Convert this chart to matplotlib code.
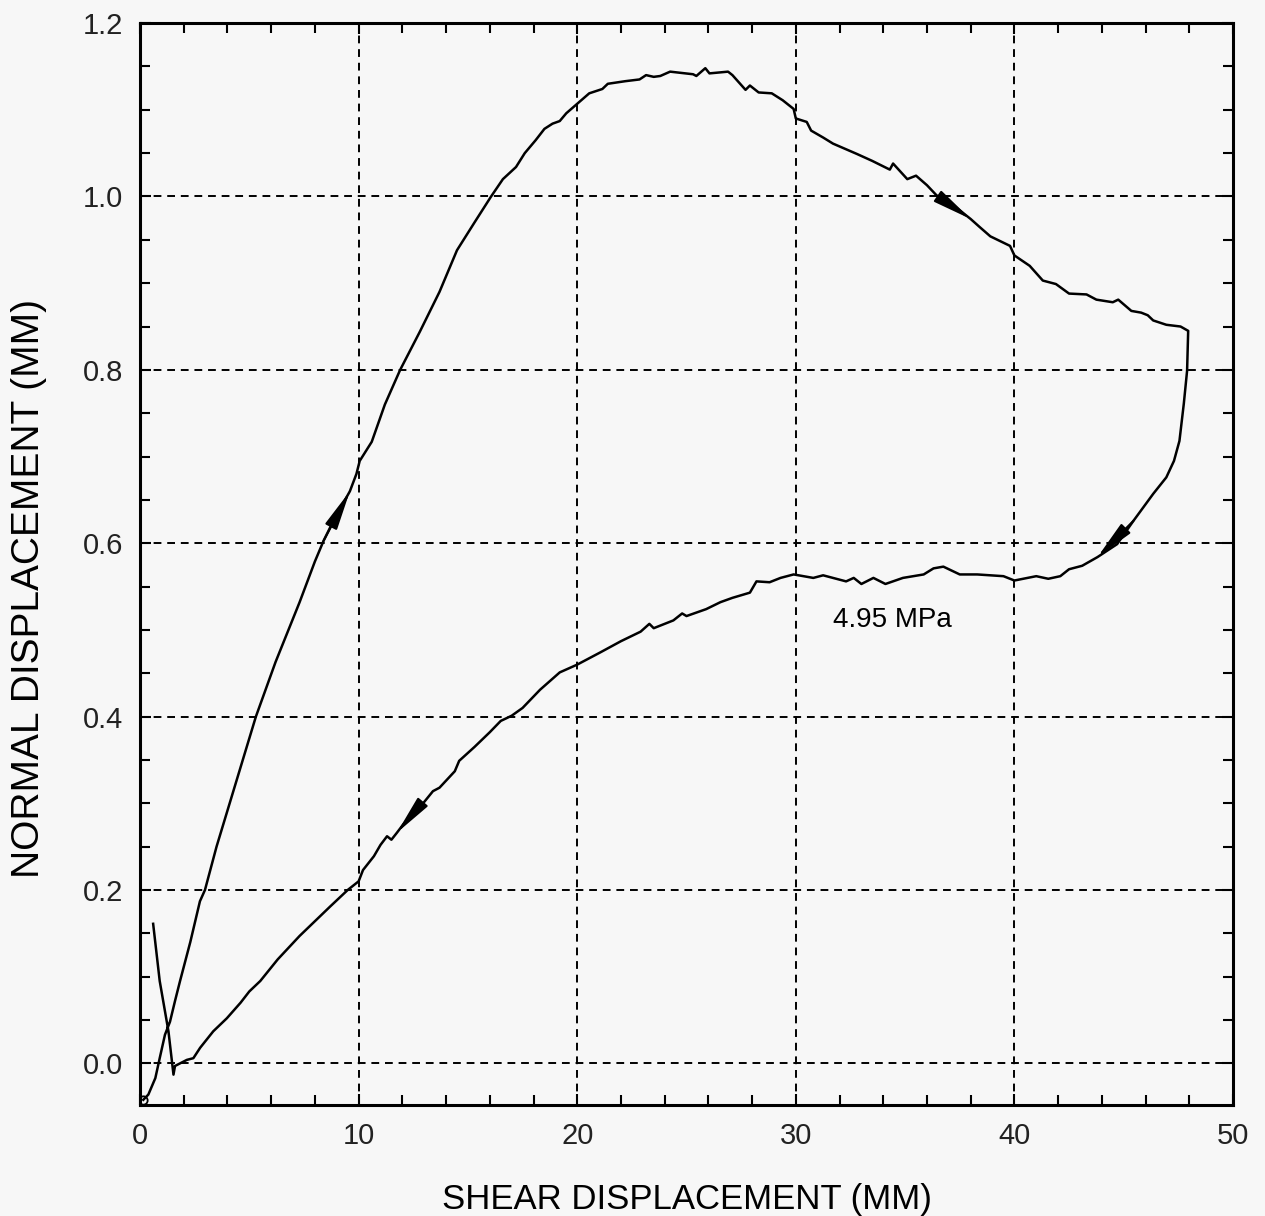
import numpy as np
from matplotlib import pyplot as plt
from matplotlib.ticker import MultipleLocator, FormatStrFormatter

# loading branch: shear vs normal displacement (mm)
rise_shear = [0.15, 0.38, 0.7, 0.9, 1.14, 1.37, 1.6, 1.83, 2.3, 2.74, 2.97, 3.5, 4.1, 4.7,
              5.3, 6.2, 7.3, 8.0, 8.4, 8.85, 9.6, 9.9, 10.05, 10.6, 11.2, 11.9, 12.8, 13.7,
              14.5, 15.3, 16.06, 16.6, 17.2, 17.6, 18.1, 18.5, 18.87, 19.2, 19.5, 20.0,
              20.55, 21.15, 21.4, 22.2, 22.85, 23.15, 23.5, 23.8, 24.25, 25.3, 25.45,
              25.86, 26.05, 26.9, 27.1, 27.7, 27.9, 28.3, 28.9, 29.4, 29.9, 30.0, 30.5,
              30.7, 31.25, 31.7, 32.8, 33.5, 34.3, 34.45, 35.1, 35.5, 36.0, 36.45, 37.2,
              38.0, 38.4, 38.9, 39.8, 40.0, 40.7, 41.3, 41.9, 42.5, 43.3, 43.75, 44.5,
              44.75, 45.35, 45.8, 46.1, 46.35, 46.95, 47.6, 47.95]
rise_normal = [-0.042, -0.036, -0.017, 0.006, 0.033, 0.048, 0.072, 0.095, 0.14, 0.187, 0.2,
               0.25, 0.30, 0.35, 0.40, 0.463, 0.532, 0.579, 0.603, 0.626, 0.660, 0.680,
               0.695, 0.717, 0.76, 0.80, 0.844, 0.89, 0.938, 0.97, 1.0, 1.02, 1.034, 1.05,
               1.065, 1.078, 1.084, 1.087, 1.096, 1.107, 1.119, 1.124, 1.130, 1.133, 1.135,
               1.140, 1.138, 1.139, 1.144, 1.141, 1.139, 1.148, 1.142, 1.144, 1.140, 1.123,
               1.128, 1.120, 1.119, 1.111, 1.101, 1.090, 1.086, 1.076, 1.068, 1.061, 1.049,
               1.041, 1.031, 1.038, 1.020, 1.024, 1.013, 1.001, 0.99, 0.974, 0.965, 0.954,
               0.943, 0.932, 0.920, 0.903, 0.899, 0.888, 0.887, 0.881, 0.878, 0.881, 0.868,
               0.866, 0.863, 0.857, 0.852, 0.850, 0.845]

# reverse branch back to the start
back_shear = [47.9, 47.75, 47.55, 47.3, 46.95, 46.35, 45.45, 44.7, 43.8, 43.1, 42.5, 42.1,
              41.55, 41.0, 40.0, 39.5, 38.3, 37.5, 36.75, 36.3, 35.85, 34.9, 34.1, 33.55,
              33.0, 32.65, 32.3, 31.25, 30.8, 29.9, 29.3, 28.8, 28.2, 27.9, 27.1, 26.55,
              25.9, 25.0, 24.8, 24.4, 23.5, 23.3, 22.9, 22.0, 21.05, 20.0, 19.2, 18.3, 17.5,
              17.0, 16.5, 16.0, 15.3, 14.6, 14.4, 13.7, 13.4, 12.95, 12.65, 12.05, 11.75,
              11.5, 11.3, 11.0, 10.7, 10.2, 10.0, 9.5, 8.7, 7.3, 6.3, 5.5, 5.0, 4.6, 3.97,
              3.35, 2.75, 2.44, 2.14, 1.83, 1.6, 1.53, 1.3, 0.9, 0.6]
back_normal = [0.799, 0.761, 0.718, 0.695, 0.676, 0.657, 0.626, 0.599, 0.584, 0.574, 0.570,
               0.562, 0.559, 0.562, 0.557, 0.562, 0.564, 0.564, 0.573, 0.571, 0.564, 0.560,
               0.553, 0.560, 0.553, 0.560, 0.556, 0.563, 0.560, 0.564, 0.560, 0.555, 0.556,
               0.543, 0.537, 0.532, 0.524, 0.516, 0.519, 0.511, 0.502, 0.507, 0.498, 0.487,
               0.474, 0.460, 0.451, 0.431, 0.41, 0.401, 0.395, 0.382, 0.365, 0.349, 0.337,
               0.318, 0.314, 0.30, 0.293, 0.276, 0.266, 0.258, 0.262, 0.252, 0.239, 0.223,
               0.21, 0.2, 0.181, 0.147, 0.12, 0.095, 0.083, 0.07, 0.052, 0.037, 0.018, 0.006,
               0.004, 0.0, -0.003, -0.013, 0.037, 0.095, 0.161]

# shear positions where direction arrows sit (rise, rise, back, back)
arrow_rise = [9.6, 38.0]
arrow_back = [43.8, 11.75]

stress_label = '4.95 MPa'

plt.rcParams['font.family'] = ['Liberation Sans', 'DejaVu Sans']

fig = plt.figure(figsize=(12.65, 12.16), dpi=100, facecolor='#f7f7f7')
ax = fig.add_axes([0.1107, 0.0913, 0.864, 0.8897])
ax.set_facecolor('#f7f7f7')

xs = np.array(rise_shear + back_shear)
ys = np.array(rise_normal + back_normal)
ax.plot(xs, ys, color='black', lw=1.8, zorder=3)
ax.plot(xs[0], ys[0], 'o', ms=6, mfc='none', mec='black', mew=1.3, zorder=4)


def add_arrow(sx, sy, at):
    i = int(np.argmin(np.abs(np.array(sx) - at)))
    ax.annotate('', xy=(sx[i], sy[i]), xytext=(sx[i - 2], sy[i - 2]),
                arrowprops=dict(arrowstyle='-|>,head_length=1.2,head_width=0.2',
                                mutation_scale=20, color='black', lw=1.5,
                                shrinkA=0, shrinkB=0), zorder=4)


for a in arrow_rise:
    add_arrow(rise_shear, rise_normal, a)
for a in arrow_back:
    add_arrow(back_shear, back_normal, a)

ax.text(34.4, 0.511, stress_label, fontsize=20, ha='center', va='center')

ax.set_xlim(0, 50)
ax.set_ylim(-0.048, 1.2)
ax.xaxis.set_major_locator(MultipleLocator(10))
ax.xaxis.set_minor_locator(MultipleLocator(2))
ax.yaxis.set_major_locator(MultipleLocator(0.2))
ax.yaxis.set_minor_locator(MultipleLocator(0.05))
ax.yaxis.set_major_formatter(FormatStrFormatter('%.1f'))

ax.grid(True, which='major', color='black', lw=1.4, linestyle=(0, (4, 3)))
ax.tick_params(which='both', direction='in', top=True, right=True,
               labelsize=21, width=1.5, pad=12, labelcolor='#222222')
ax.tick_params(which='major', length=8)
ax.tick_params(which='minor', length=7)
for s in ax.spines.values():
    s.set_linewidth(2.2)

ax.set_xlabel('SHEAR DISPLACEMENT (MM)', fontsize=25, labelpad=24)
ax.set_ylabel('NORMAL DISPLACEMENT (MM)', fontsize=28)
ax.yaxis.set_label_coords(-0.085, 0.477)

fig.savefig('out.png', dpi=100, facecolor=fig.get_facecolor())
